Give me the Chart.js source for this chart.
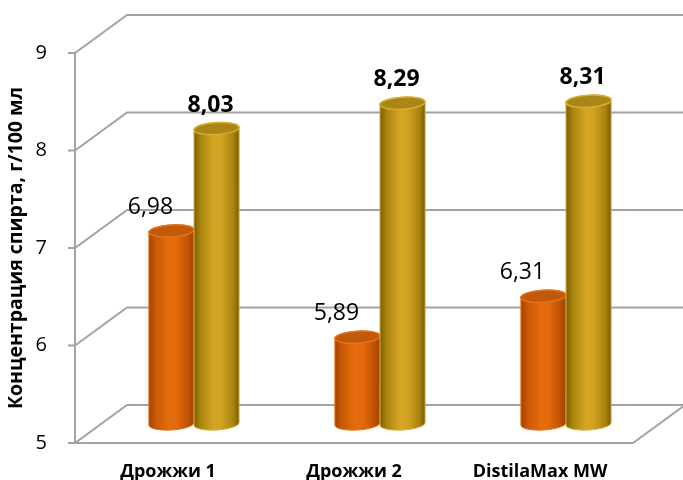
<!DOCTYPE html>
<html>
<head>
<meta charset="utf-8">
<script src="https://cdn.jsdelivr.net/npm/chart.js@4"></script>
<style>
  html, body { margin: 0; padding: 0; background: #fff; }
  canvas { display: block; }
</style>
</head>
<body>
<canvas id="chart" width="683" height="480"></canvas>
<script>
// Datos del gráfico
const categories = ['Дрожжи 1', 'Дрожжи 2', 'DistilaMax MW'];
const seriesOrange = [6.98, 5.89, 6.31];
const seriesGold = [8.03, 8.29, 8.31];
const yTicks = [5, 6, 7, 8, 9];
const yTitle = 'Концентрация спирта, г/100 мл';

const FONT = "'Open Sans', 'Noto Sans', sans-serif";
const DEPTH_X = 52;   // desplazamiento de la pared trasera
const DEPTH_Y = -38;
const GRID = '#A3A3A3';

const palettes = [
  {
    body: [[0, '#A64200'], [0.14, '#C75805'], [0.45, '#E66D0D'], [0.62, '#E36A0B'], [0.88, '#BD5204'], [1, '#9E3F00']],
    top: '#C2580A', rim: '#E4741A'
  },
  {
    body: [[0, '#7C5E05'], [0.15, '#A9850F'], [0.45, '#D5A624'], [0.62, '#D1A121'], [0.88, '#A68210'], [1, '#7A5C05']],
    top: '#A98616', rim: '#D9AD30'
  }
];
const labelShift = [-21, -6];
const labelBold = [false, true];

function fmt(v) {
  return v.toFixed(2).replace('.', ',');
}

function drawCylinder(ctx, cx, top, bottom, w, pal) {
  const rx = w / 2, ry = 6, rot = -0.06;
  const x0 = cx - rx, x1 = cx + rx;
  const g = ctx.createLinearGradient(x0, 0, x1, 0);
  pal.body.forEach(s => g.addColorStop(s[0], s[1]));
  ctx.beginPath();
  ctx.moveTo(x0, top);
  ctx.lineTo(x0, bottom);
  ctx.ellipse(cx, bottom, rx, ry, rot, Math.PI, 0, true);
  ctx.lineTo(x1, top);
  ctx.ellipse(cx, top, rx, ry, rot, 0, Math.PI, true);
  ctx.closePath();
  ctx.fillStyle = g;
  ctx.fill();
  ctx.lineWidth = 1;
  ctx.strokeStyle = pal.rim;
  ctx.stroke();
  // tapa superior
  ctx.beginPath();
  ctx.ellipse(cx, top, rx, ry, rot, 0, Math.PI * 2);
  ctx.fillStyle = pal.top;
  ctx.fill();
  ctx.lineWidth = 1.5;
  ctx.strokeStyle = pal.rim;
  ctx.stroke();
}

// Plugin para la cuadrícula 3D y los cilindros
const chart3d = {
  id: 'chart3d',
  beforeDatasetsDraw(chart) {
    const ctx = chart.ctx;
    const area = chart.chartArea;
    const y = chart.scales.y;
    ctx.save();
    ctx.strokeStyle = GRID;
    ctx.lineWidth = 2;
    ctx.lineCap = 'butt';
    yTicks.forEach(v => {
      const py = y.getPixelForValue(v);
      ctx.beginPath();
      ctx.moveTo(area.left - 7, py);
      ctx.lineTo(area.left, py);
      ctx.lineTo(area.left + DEPTH_X, py + DEPTH_Y);
      ctx.lineTo(chart.width + 5, py + DEPTH_Y);
      ctx.stroke();
    });
    // eje vertical y borde frontal del suelo
    const pb = y.getPixelForValue(yTicks[0]);
    ctx.beginPath();
    ctx.moveTo(area.left, y.getPixelForValue(yTicks[yTicks.length - 1]));
    ctx.lineTo(area.left, pb);
    ctx.lineTo(area.right, pb);
    ctx.lineTo(area.right + DEPTH_X, pb + DEPTH_Y);
    ctx.stroke();
    ctx.restore();
  },
  afterDatasetsDraw(chart) {
    const ctx = chart.ctx;
    const dx = DEPTH_X / 2, dy = DEPTH_Y / 2;
    const base = chart.scales.y.getPixelForValue(chart.scales.y.min);
    ctx.save();
    chart.data.datasets.forEach((ds, i) => {
      const meta = chart.getDatasetMeta(i);
      meta.data.forEach(bar => {
        const p = bar.getProps(['x', 'y', 'width'], true);
        drawCylinder(ctx, p.x + dx, p.y + dy, base + dy, p.width, palettes[i]);
      });
    });
    ctx.fillStyle = '#000';
    ctx.textAlign = 'center';
    ctx.textBaseline = 'alphabetic';
    chart.data.datasets.forEach((ds, i) => {
      const meta = chart.getDatasetMeta(i);
      ctx.font = (labelBold[i] ? 'bold ' : '') + '23px ' + FONT;
      meta.data.forEach((bar, j) => {
        const p = bar.getProps(['x', 'y'], true);
        ctx.fillText(fmt(ds.data[j]), p.x + dx + labelShift[i], p.y + dy - 17);
      });
    });
    ctx.restore();
  }
};

new Chart(document.getElementById('chart'), {
  type: 'bar',
  data: {
    labels: categories,
    datasets: [
      { label: 'A', data: seriesOrange, backgroundColor: 'rgba(0,0,0,0)', borderWidth: 0 },
      { label: 'B', data: seriesGold, backgroundColor: 'rgba(0,0,0,0)', borderWidth: 0 }
    ]
  },
  options: {
    responsive: false,
    animation: false,
    devicePixelRatio: 1,
    layout: { padding: { top: 53, right: 50, left: 0, bottom: 0 } },
    datasets: {
      bar: { categoryPercentage: 0.485, barPercentage: 1 }
    },
    plugins: {
      legend: { display: false },
      tooltip: { enabled: false }
    },
    scales: {
      x: {
        grid: { display: false },
        border: { display: false },
        ticks: {
          color: '#000',
          padding: 10,
          font: { family: FONT, size: 18, weight: 'bold' }
        },
        afterFit(scale) { scale.height = 37; }
      },
      y: {
        min: 5,
        max: 9,
        grid: { display: false },
        border: { display: false },
        ticks: {
          stepSize: 1,
          color: '#000',
          padding: 20,
          font: { family: FONT, size: 20 }
        },
        title: {
          display: true,
          text: yTitle,
          color: '#000',
          padding: { top: 5, bottom: 0 },
          font: { family: FONT, size: 19.5, weight: 'bold' }
        },
        afterFit(scale) { scale.width = 75; }
      }
    }
  },
  plugins: [chart3d]
});
</script>
</body>
</html>
